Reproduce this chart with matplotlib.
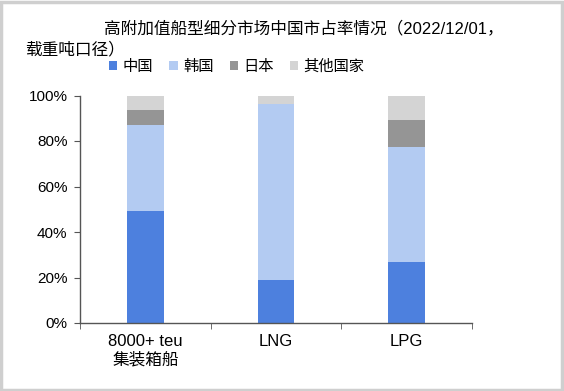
import matplotlib
matplotlib.use("Agg")
import matplotlib.pyplot as plt
from matplotlib.patches import Rectangle, Patch

plt.rcParams['font.family'] = ['Liberation Sans', 'Noto Sans CJK SC', 'DejaVu Sans']

categories = ["8000+ teu\n集装箱船", "LNG", "LPG"]
series_names = ["中国", "韩国", "日本", "其他国家"]
china = [49.3, 18.8, 27.0]
korea = [37.7, 77.5, 50.2]
japan = [6.5, 0.0, 12.2]
others = [6.5, 3.7, 10.6]
colors = ["#4d80de", "#b3cbf2", "#959595", "#d4d4d4"]
yticks = [0, 20, 40, 60, 80, 100]
ytick_labels = ["0%", "20%", "40%", "60%", "80%", "100%"]

W, H = 564, 391
fig = plt.figure(figsize=(W / 100, H / 100), dpi=100)

def px(x, y):
    return x / W, 1 - y / H

ax_l, ax_r, ax_t, ax_b = 80, 472, 95.5, 323
ax = fig.add_axes([ax_l / W, 1 - ax_b / H, (ax_r - ax_l) / W, (ax_b - ax_t) / H])

x = list(range(len(categories)))
bottom = [0.0] * len(categories)
for vals, name, c in zip([china, korea, japan, others], series_names, colors):
    ax.bar(x, vals, width=0.28, bottom=bottom, color=c, label=name, edgecolor='none')
    bottom = [b + v for b, v in zip(bottom, vals)]

ax.set_xlim(-0.5, len(categories) - 0.5)
ax.set_ylim(0, 100)
ax.set_yticks(yticks)
ax.set_yticklabels(ytick_labels, fontsize=11)
ax.set_xticks(x)
ax.set_xticklabels(categories, fontsize=12, linespacing=1.25)
ax.set_xticks([-0.5, 0.5, 1.5, 2.5], minor=True)
ax.tick_params(axis='x', which='major', length=0, pad=8)
ax.tick_params(axis='x', which='minor', length=4, color='#555555')
ax.tick_params(axis='y', length=4, color='#555555', pad=5)
for s in ['top', 'right']:
    ax.spines[s].set_visible(False)
for s in ['left', 'bottom']:
    ax.spines[s].set_color('#555555')
    ax.spines[s].set_linewidth(1.0)

fig.text(*px(104, 28), "高附加值船型细分市场中国市占率情况（2022/12/01，", fontsize=12, va='center', ha='left')
fig.text(*px(25, 49), "载重吨口径）", fontsize=12, va='center', ha='left')

handles = [Patch(facecolor=c, edgecolor='none') for c in colors]
fig.legend(handles, series_names, loc='center left', bbox_to_anchor=px(109, 67), ncol=4,
           frameon=False, fontsize=11, handlelength=0.55, handleheight=0.55,
           handletextpad=0.35, columnspacing=1.05, borderaxespad=0, borderpad=0)

fig.patches.append(Rectangle((0.002, 0.003), 0.994, 0.992, transform=fig.transFigure,
                             fill=False, edgecolor='#cfcfcf', linewidth=2.5))

fig.savefig("out.png", dpi=100)
